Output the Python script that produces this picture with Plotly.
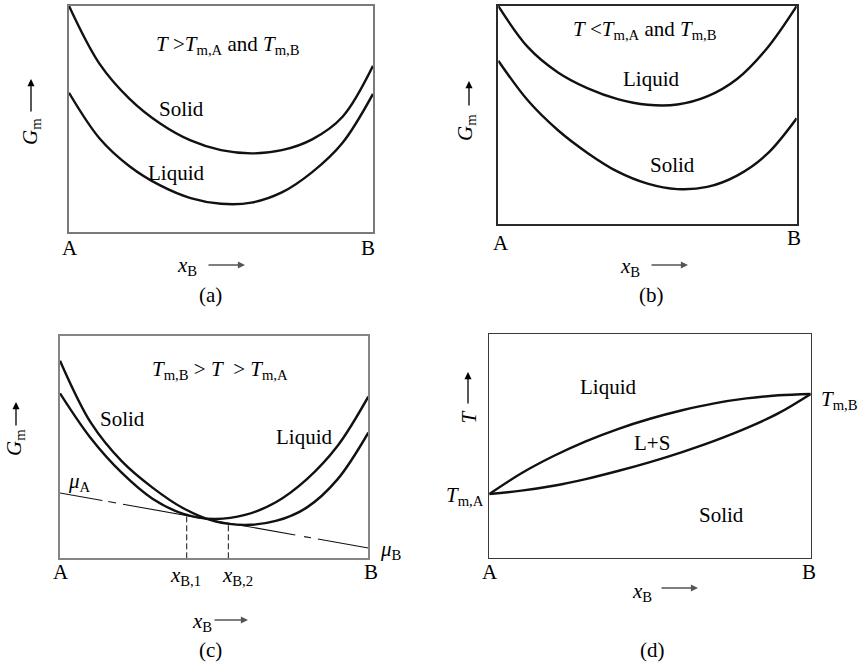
import plotly.graph_objects as go

W, H = 858, 664
FONT = "Liberation Serif"
FS = 21

# composition grid along A -> B (mole fraction of B)
xs = [0, 0.1, 0.2, 0.3, 0.4, 0.5, 0.6, 0.7, 0.8, 0.9, 1.0]

# ---- (a) T above both melting points: molar Gibbs energy ----
a_solid_g = [1.0, 0.745, 0.588, 0.480, 0.405, 0.362, 0.348, 0.362, 0.410, 0.510, 0.735]
a_liquid_g = [0.616, 0.415, 0.290, 0.206, 0.150, 0.125, 0.130, 0.175, 0.265, 0.395, 0.611]

# ---- (b) T below both melting points ----
b_liquid_g = [1.0, 0.810, 0.695, 0.622, 0.573, 0.547, 0.548, 0.585, 0.665, 0.805, 1.0]
b_solid_g = [0.749, 0.565, 0.430, 0.325, 0.240, 0.185, 0.160, 0.170, 0.222, 0.320, 0.485]

# ---- (c) between the melting points, with the common tangent ----
c_solid_g = [0.889, 0.610, 0.437, 0.318, 0.225, 0.167, 0.150, 0.168, 0.228, 0.355, 0.565]
c_liquid_g = [0.742, 0.540, 0.385, 0.268, 0.200, 0.177, 0.195, 0.252, 0.355, 0.505, 0.727]
mu_A, mu_B = 0.294, 0.046          # tangent intercepts at x_B = 0 and x_B = 1
x_B1, x_B2 = 0.411, 0.546          # tangent points (liquid, solid)

# ---- (d) phase diagram: liquidus and solidus ----
d_liquidus = [0.285, 0.378, 0.455, 0.521, 0.576, 0.622, 0.660, 0.691, 0.713, 0.727, 0.733]
d_solidus = [0.285, 0.300, 0.322, 0.352, 0.388, 0.428, 0.473, 0.523, 0.580, 0.647, 0.733]

# frame boxes of the four panels, in pixels: left, right, top, bottom
boxes = {
    "": (69, 373, 6, 232),
    "2": (498.3, 796.7, 6, 224),
    "3": (60, 368.3, 336, 558.3),
    "4": (489.3, 810.7, 334.3, 557.7),
}
frame_style = {
    "": ("#7a7a7a", 1.8),
    "2": ("#2a2a2a", 1.5),
    "3": ("#858585", 1.8),
    "4": ("#3a3a3a", 1.3),
}

fig = go.Figure()

def curve(xv, yv, k, width=2.4, color="#111111"):
    fig.add_trace(go.Scatter(
        x=xv, y=yv, mode="lines", xaxis="x" + k, yaxis="y" + k,
        line=dict(color=color, width=width, shape="spline", smoothing=1.0),
        hoverinfo="skip"))

curve(xs, a_solid_g, "")
curve(xs, a_liquid_g, "")
curve(xs, b_liquid_g, "2")
curve(xs, b_solid_g, "2")
curve(xs, c_solid_g, "3")
curve(xs, c_liquid_g, "3")
curve(xs, d_liquidus, "4")
curve(xs, d_solidus, "4")

# common tangent line (chemical potentials of A and B)
fig.add_trace(go.Scatter(
    x=[0, 1], y=[mu_A, mu_B], mode="lines", xaxis="x3", yaxis="y3",
    line=dict(color="#111111", width=1.1,
              dash="43px,6px,8px,7px,175px,9px,7px,7px,52px"),
    hoverinfo="skip"))
# drop lines from the tangent points to the composition axis
for xb in (x_B1, x_B2):
    fig.add_trace(go.Scatter(
        x=[xb, xb], y=[0, mu_A + (mu_B - mu_A) * xb], mode="lines",
        xaxis="x3", yaxis="y3",
        line=dict(color="#111111", width=1.0, dash="6px,3px"),
        hoverinfo="skip"))

layout = dict(
    width=W, height=H, autosize=False,
    margin=dict(l=0, r=0, t=0, b=0),
    paper_bgcolor="white", plot_bgcolor="white",
    showlegend=False,
)
for k, (l, r, t, b) in boxes.items():
    col, lw = frame_style[k]
    common = dict(range=[0, 1], showline=True, mirror=True, linecolor=col,
                  linewidth=lw, ticks="", showticklabels=False,
                  showgrid=False, zeroline=False, fixedrange=True)
    layout["xaxis" + k] = dict(domain=[l / W, r / W], anchor="y" + k, **common)
    layout["yaxis" + k] = dict(domain=[1 - b / H, 1 - t / H], anchor="x" + k, **common)
fig.update_layout(**layout)

annotations = []

def label(px, py, s, size=FS, xanchor="center", angle=0):
    annotations.append(dict(
        xref="paper", yref="paper", x=px / W, y=1 - py / H, text=s,
        showarrow=False, xanchor=xanchor, yanchor="middle", textangle=angle,
        font=dict(family=FONT, size=size, color="black")))

def arrow(x0, y0, x1, y1, color="black"):
    annotations.append(dict(
        xref="paper", yref="paper", x=x1 / W, y=1 - y1 / H, text="",
        showarrow=True, axref="pixel", ayref="pixel",
        ax=x0 - x1, ay=y0 - y1, arrowhead=2, arrowsize=1.1,
        arrowwidth=1.3, arrowcolor=color, standoff=0))

Gm = "<i>G</i><sub>m</sub>"
xB = "<i>x</i><sub>B</sub>"
T = "<i>T</i>"

# (a)
label(228, 45, T + " &gt;" + T + "<sub>m,A</sub> and " + T + "<sub>m,B</sub>")
label(181.7, 109.3, "Solid")
label(175.5, 172.7, "Liquid")
label(70, 248, "A")
label(368.3, 248, "B")
label(187, 266, xB)
arrow(207, 265, 245, 265, "#555555")
label(210.7, 295, "(a)")
label(31, 131, Gm, angle=-90)
arrow(31, 113, 31, 79)

# (b)
label(645, 30, T + " &lt;" + T + "<sub>m,A</sub> and " + T + "<sub>m,B</sub>")
label(650.8, 79.3, "Liquid")
label(672.8, 165, "Solid")
label(500.7, 242.7, "A")
label(794, 238.3, "B")
label(630, 267, xB)
arrow(650, 265, 688, 265, "#555555")
label(651.7, 295, "(b)")
label(466, 128, Gm, angle=-90)
arrow(469, 107, 469, 81)

# (c)
label(220, 370, T + "<sub>m,B</sub> &gt; " + T + "&nbsp; &gt; " + T + "<sub>m,A</sub>")
label(122.5, 419.3, "Solid")
label(303.8, 437.3, "Liquid")
label(79, 482, "<i>μ</i><sub>A</sub>")
label(391, 550, "<i>μ</i><sub>B</sub>")
label(61, 572.3, "A")
label(370.7, 572.3, "B")
label(185, 576, "<i>x</i><sub>B,1</sub>")
label(237.5, 576, "<i>x</i><sub>B,2</sub>")
label(202, 622, xB)
arrow(213, 620, 248, 620, "#555555")
label(210.7, 650, "(c)")
label(15, 443, Gm, angle=-90)
arrow(16, 427, 16, 402)

# (d)
label(607.5, 386.7, "Liquid")
label(651.7, 442.7, "L+S")
label(721.7, 515, "Solid")
label(486, 496, T + "<sub>m,A</sub>", xanchor="right")
label(819, 400, T + "<sub>m,B</sub>", xanchor="left")
label(490, 572.3, "A")
label(809.3, 572.3, "B")
label(642, 592, xB)
arrow(660, 588, 698, 588, "#555555")
label(652.7, 650, "(d)")
label(468, 416.5, T, angle=-90)
arrow(468, 405, 468, 372)

fig.update_layout(annotations=annotations)
fig.write_html("out.html")
